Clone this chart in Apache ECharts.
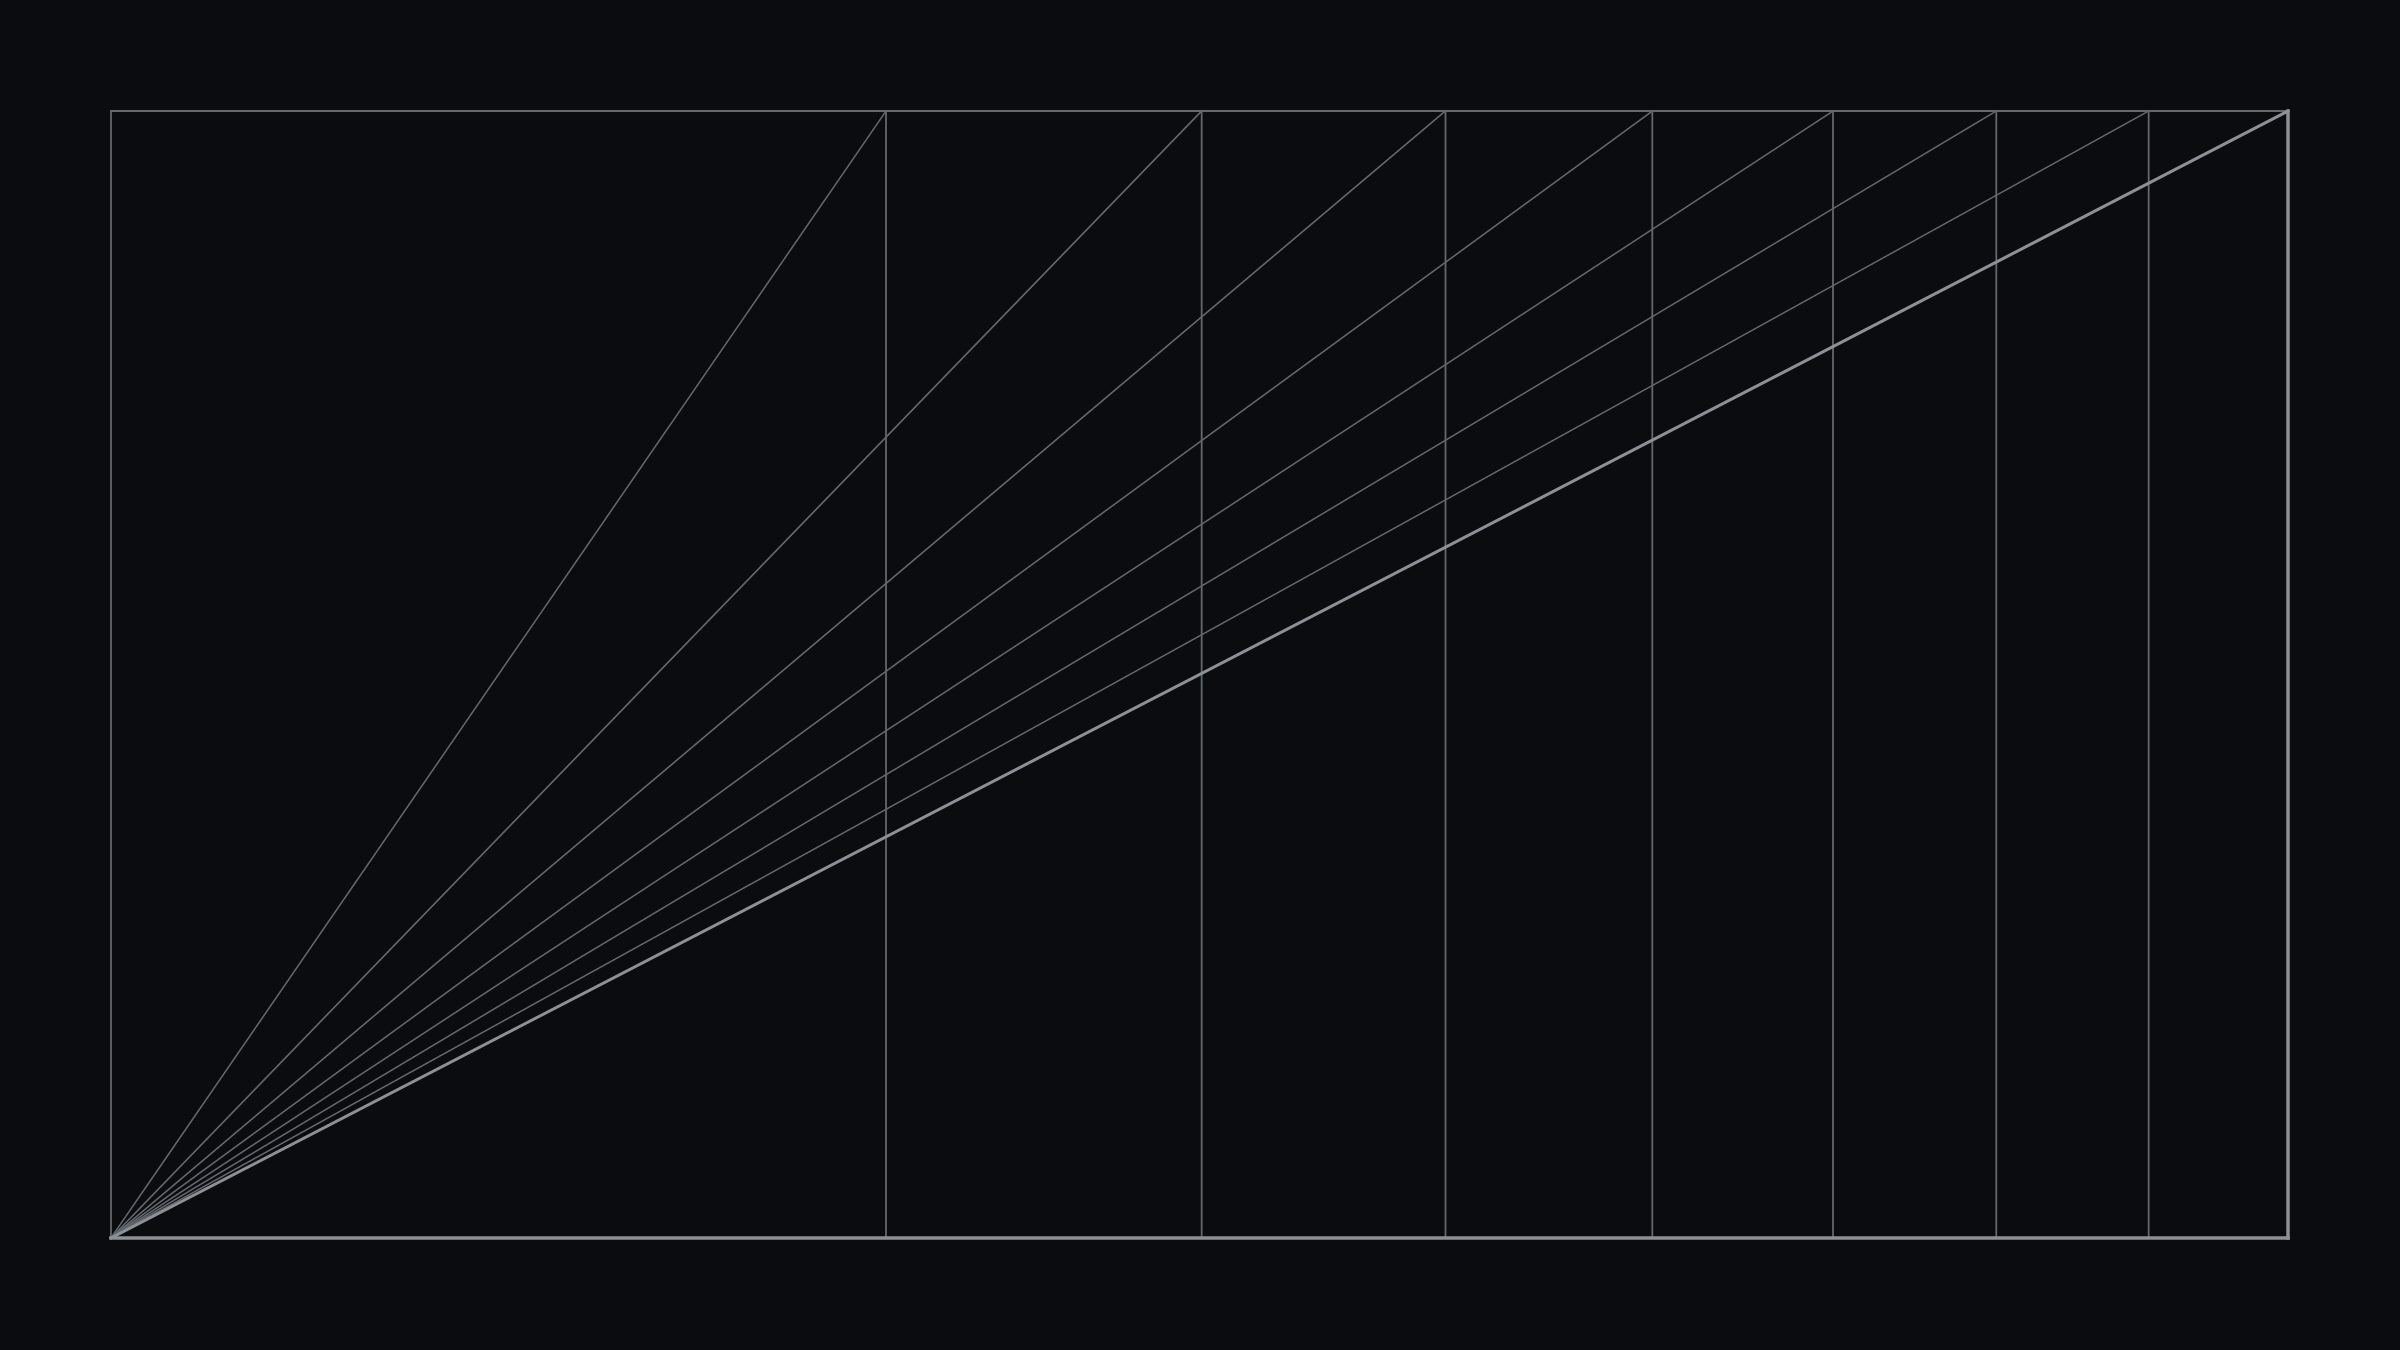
<!DOCTYPE html>
<html>
<head>
<meta charset="utf-8">
<script src="https://cdn.jsdelivr.net/npm/echarts@6/dist/echarts.min.js"></script>
<style>
html,body{margin:0;padding:0;background:#0a0c0f;}
#c{width:2400px;height:1350px;}
</style>
</head>
<body>
<div id="c"></div>
<script>
// x positions (fraction of width) where each ray meets the top edge, and the vertical dividers
const stops = [0.356, 0.501, 0.613, 0.708, 0.791, 0.866, 0.936, 1];
const yMin = 0;
const yMax = 1;

const thinColor = '#63676e';
const thickColor = '#8c9097';

const series = [];
function seg(name, a, b, w, color) {
  series.push({
    name: name, type: 'line', data: [a, b], symbol: 'none', clip: false,
    silent: true, animation: false,
    lineStyle: { width: w, color: color, cap: 'square' }
  });
}
// frame: left and top thin
seg('left', [0, yMin], [0, yMax], 1.8, thinColor);
seg('top', [0, yMax], [1, yMax], 1.8, thinColor);
// vertical dividers and rays
stops.forEach((x, i) => {
  if (x < 1) {
    seg('v' + i, [x, yMin], [x, yMax], 1.8, thinColor);
    seg('r' + i, [0, yMin], [x, yMax], 1.6, thinColor);
  }
});
// thick: bottom, right, main diagonal
seg('bottom', [0, yMin], [1, yMin], 3.5, thickColor);
seg('right', [1, yMin], [1, yMax], 3.5, thickColor);
seg('diag', [0, yMin], [1, yMax], 3, thickColor);

const chart = echarts.init(document.getElementById('c'));
chart.setOption({
  backgroundColor: '#0a0c0f',
  animation: false,
  grid: { left: 111, right: 112, top: 111, bottom: 112 },
  xAxis: { type: 'value', min: 0, max: 1, show: false },
  yAxis: { type: 'value', min: 0, max: 1, show: false },
  series: series
});
</script>
</body>
</html>
